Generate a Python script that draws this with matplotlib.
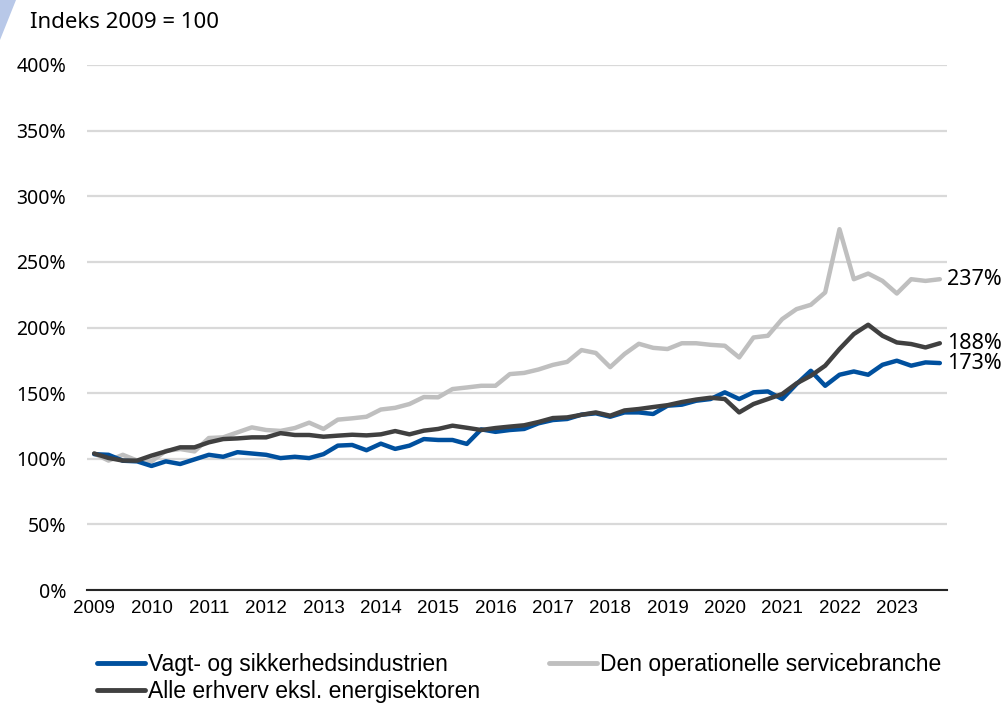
import matplotlib.pyplot as plt
from matplotlib.patches import Polygon

# quarterly index values 2009 Q1 - 2023 Q4 (2009 = 100)
years = list(range(2009, 2024))

vagt = [103.5, 103, 98.5, 98, 94.5, 98, 96, 99.5, 103, 101.5, 105, 104,
        103, 100.5, 101.5, 100.5, 103.5, 110, 110.5, 106.5, 111.5, 107.5, 110, 115,
        114.3, 114.3, 111.3, 122.4, 120.5, 121.9, 122.7, 127, 129.5, 130.3, 133.6, 134.6,
        132, 135.3, 135.3, 134.1, 140.4, 141.2, 144.2, 145.5, 150.6, 145.5, 150.6, 151.3,
        145.5, 156.9, 167, 155.6, 164, 166.5, 164, 171.6, 174.7, 170.9, 173.4, 172.9]

service = [104, 98.6, 103, 98.6, 98, 106, 107.4, 105.6, 115.8, 116.3, 120.1, 123.9,
           121.9, 121.2, 123.4, 127.5, 122.7, 129.8, 130.8, 132, 137.5, 138.8, 141.7, 147,
           146.8, 153.1, 154.3, 155.6, 155.6, 164.5, 165.4, 168, 171.5, 173.8, 182.8, 180.6,
           169.8, 179.8, 187.6, 184.5, 183.6, 188, 188, 186.8, 186.1, 177.2, 192.4, 193.7,
           206.4, 214, 217.3, 226.7, 274.9, 236.8, 241.1, 235.5, 225.9, 236.8, 235.5, 236.8]

alle = [104, 100.6, 98.6, 98.6, 102.4, 105.6, 108.7, 108.7, 112.5, 115, 115.5, 116.3,
        116.3, 119.5, 118.1, 118.1, 116.8, 117.6, 118.3, 117.8, 118.6, 121.1, 118.6, 121.4,
        122.7, 125.2, 123.6, 121.9, 123.4, 124.5, 125.5, 128, 131, 131.5, 133.5, 135.3,
        132.8, 136.8, 137.9, 139.4, 140.8, 143.2, 145.1, 146.5, 145.5, 135.3, 141.7, 145.5,
        149.3, 157.4, 163.2, 170.9, 183.6, 195, 202.1, 193.7, 188.6, 187.4, 184.8, 188]

names = ["Vagt- og sikkerhedsindustrien", "Den operationelle servicebranche",
         "Alle erhverv eksl. energisektoren"]
colors = ["#00509e", "#bfbfbf", "#404040"]

narrow = ["Liberation Sans Narrow", "Liberation Sans", "DejaVu Sans"]
wide = ["Noto Sans", "DejaVu Sans"]

fig = plt.figure(figsize=(10.06, 7.04), dpi=100)
ax = fig.add_axes([87 / 1006, 1 - 590 / 704, 860 / 1006, 525 / 704])

x = list(range(len(vagt)))
l1, = ax.plot(x, vagt, color=colors[0], lw=3.2, solid_capstyle="round", zorder=3)
l2, = ax.plot(x, service, color=colors[1], lw=3.2, solid_capstyle="round", zorder=2)
l3, = ax.plot(x, alle, color=colors[2], lw=3.2, solid_capstyle="round", zorder=3)

ax.set_xlim(-0.5, len(x) - 0.5)
ax.set_ylim(0, 400)
ax.set_yticks(range(0, 401, 50))
ax.set_yticklabels([f"{v}%" for v in range(0, 401, 50)], family=wide, fontsize=14)
ax.set_xticks(range(0, len(x), 4))
ax.set_xticklabels([str(y) for y in years], family=narrow, fontsize=13.5)
ax.tick_params(axis="both", length=0)
ax.tick_params(axis="y", pad=15)
ax.tick_params(axis="x", pad=7)

ax.grid(axis="y", color="#d9d9d9", lw=1.6)
ax.set_axisbelow(True)
for side in ["top", "right", "left"]:
    ax.spines[side].set_visible(False)
ax.spines["bottom"].set_color("#262626")
ax.spines["bottom"].set_linewidth(1.5)
ax.spines["bottom"].set_zorder(4)

# end labels
for series in [service, alle, vagt]:
    ax.annotate(f"{round(series[-1])}%", (x[-1], series[-1]), xytext=(5, 0),
                textcoords="offset points", va="center", ha="left",
                family=wide, fontsize=15.5, annotation_clip=False)

fig.text(30 / 1006, 1 - 22 / 704, "Indeks 2009 = 100", family=wide, fontsize=16,
         va="center", ha="left")

leg = fig.legend([l1, l3, l2], [names[0], names[2], names[1]], ncol=2,
                 loc="upper left", bbox_to_anchor=(97 / 1006, 1 - 653 / 704),
                 frameon=False, prop={"family": narrow, "size": 16.5},
                 handlelength=2.1, handletextpad=0.12, columnspacing=3.0,
                 labelspacing=0.18, borderaxespad=0, borderpad=0)
for h in leg.get_lines():
    h.set_linewidth(3.5)

# small decorative corner
fig.patches.append(Polygon([[0, 1], [16 / 1006, 1], [0, 1 - 40 / 704]], closed=True,
                           transform=fig.transFigure, color="#b8c8e8", lw=0))

plt.savefig("out.png", dpi=100)
